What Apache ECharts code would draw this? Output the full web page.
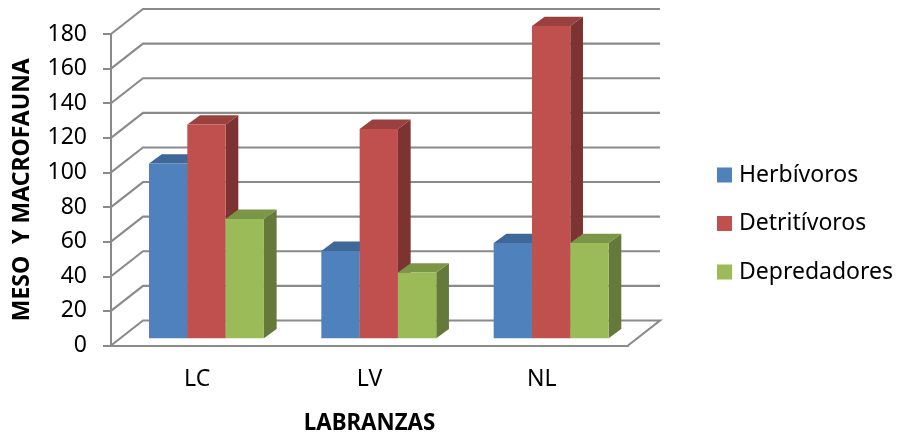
<!DOCTYPE html>
<html><head><meta charset="utf-8">
<style>html,body{margin:0;padding:0;background:#fff}#c{width:897px;height:433px}</style>
<script src="https://cdn.jsdelivr.net/npm/echarts@6/dist/echarts.min.js"></script>
</head><body><div id="c"></div>
<script>
const categories = ['LC','LV','NL'];
const herbivoros = [101,50.5,55];
const detritivoros = [123.5,121,180.5];
const depredadores = [69,38,55];
const yTicks = [0,20,40,60,80,100,120,140,160,180];
const seriesNames = ['Herbívoros','Detritívoros','Depredadores'];
const fronts = ['#4F81BD','#C0504D','#9BBB59'];
const tops = ['#3F6797','#9A403E','#7C9647'];
const sides = ['#3A5F8B','#7D3331','#657A3A'];
const wall = {dx:32, dy:-25};
const barFront = {dx:9.3, dy:-7.2};
const barDepth = {dx:12.7, dy:-9.3};
const font = '"Noto Sans", sans-serif';
const grey = '#8a8a8a';

function wallItem(params, api){
  const v = api.value(1);
  const band = api.size([1,0])[0];
  const p0 = api.coord([0,v]); const x0 = p0[0]-band/2, y = p0[1];
  const p2 = api.coord([categories.length-1,v]); const x1 = p2[0]+band/2;
  const pts = [[x0,y],[x0+wall.dx,y+wall.dy],[x1+wall.dx,y+wall.dy]];
  if(v===0) pts.push([x1,y]);
  return {type:'polyline',shape:{points:pts},style:{fill:null,stroke:grey,lineWidth:2.1},silent:true};
}
function barItem(idx){
  return function(params, api){
    const cat = api.value(0), v = api.value(1);
    const band = api.size([1,0])[0];
    const w = band*0.2223;
    const c = api.coord([cat,v]), b = api.coord([cat,0]);
    const xl = c[0]+barFront.dx+(idx-1.5)*w, xr = xl+w;
    const yt = c[1]+barFront.dy, yb = b[1]+barFront.dy;
    const dx = barDepth.dx, dy = barDepth.dy;
    return {type:'group',children:[
      {type:'polygon',shape:{points:[[xr,yt],[xr+dx,yt+dy],[xr+dx,yb+dy],[xr,yb]]},style:{fill:sides[idx]}},
      {type:'polygon',shape:{points:[[xl,yt],[xl+dx,yt+dy],[xr+dx,yt+dy],[xr,yt]]},style:{fill:tops[idx]}},
      {type:'rect',shape:{x:xl,y:yt,width:w,height:yb-yt},style:{fill:fronts[idx]}}
    ]};
  };
}
const allValues = [herbivoros,detritivoros,depredadores];
const chart = echarts.init(document.getElementById('c'),null,{renderer:'canvas'});
chart.setOption({
  animation:false,
  backgroundColor:'#fff',
  grid:{left:111,right:269,top:34,bottom:87.5,outerBoundsMode:'none'},
  legend:{orient:'vertical',left:717,top:163.5,padding:0,itemWidth:15,itemHeight:15,itemGap:25.5,icon:'rect',
    data:seriesNames,textStyle:{fontFamily:font,fontSize:23,color:'#000',padding:[0,0,0,2]}},
  xAxis:{type:'category',data:categories,
    axisLine:{lineStyle:{color:grey,width:2}},axisTick:{show:false},
    axisLabel:{fontFamily:font,fontSize:23,color:'#000',margin:22},
    name:'LABRANZAS',nameLocation:'middle',nameGap:67,
    nameTextStyle:{fontFamily:font,fontSize:22.3,fontWeight:'bold',color:'#000'}},
  yAxis:{type:'value',min:0,max:180,interval:20,
    axisLine:{show:true,lineStyle:{color:grey,width:2}},
    axisTick:{show:true,length:8,lineStyle:{color:grey,width:2}},
    splitLine:{show:false},
    axisLabel:{fontFamily:font,fontSize:23,color:'#000',margin:24,padding:[3,0,0,0]},
    name:'MESO  Y MACROFAUNA',nameLocation:'middle',nameGap:77,nameRotate:90,
    nameTextStyle:{fontFamily:font,fontSize:23,fontWeight:'bold',color:'#000'}},
  series:[
    {type:'custom',name:'walls',clip:false,silent:true,renderItem:wallItem,
      data:yTicks.map(v=>[0,v]),encode:{x:0,y:1}},
    ...seriesNames.map((n,i)=>({
      type:'custom',name:n,clip:false,silent:true,renderItem:barItem(i),
      itemStyle:{color:fronts[i]},
      data:allValues[i].map((v,k)=>[k,v]),encode:{x:0,y:1}}))
  ]
});
</script></body></html>
